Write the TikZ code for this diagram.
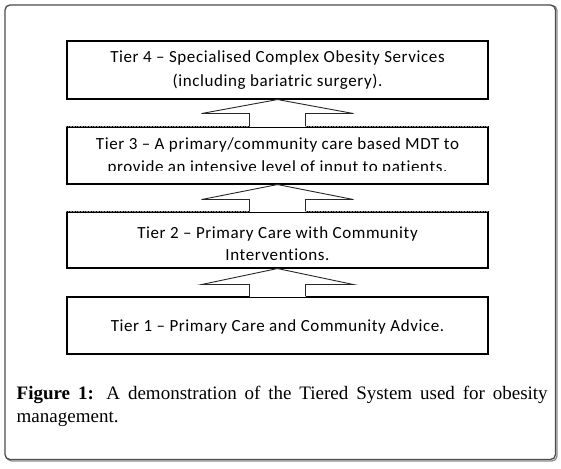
\documentclass[tikz,border=0pt]{standalone}
\usepackage{fontspec}
\setmainfont{Liberation Serif}
\newfontfamily\boxfont[LetterSpace=3.5,Ligatures=NoCommon]{Carlito}
\usetikzlibrary{calc}
\begin{document}
\begin{tikzpicture}[x=1pt,y=1pt,
  tierbox/.style={draw=black,line width=1.1pt,minimum width=421pt,inner sep=0pt},
  tiertext/.style={font=\boxfont\fontsize{17}{23}\selectfont,align=center,inner sep=0pt,anchor=base},
  blockarrow/.style={fill=white,draw=black!85,line width=0.9pt,line join=miter},
  frame/.style={draw=black!70,line width=1.3pt,rounded corners=5pt}
]
\useasboundingbox (0,0) rectangle (561,468);
% outer frame with slight shadow
\draw[draw=black!45,line width=1.3pt,rounded corners=5pt] (6.5,7) rectangle (557,462.5);
\draw[frame,fill=white] (5,8.5) rectangle (555.5,463);

% tier boxes
\node[tierbox,minimum height=58pt] (t4) at (277.5,398) {};
\node[tierbox,minimum height=57pt] (t3) at (277.5,312.5) {};
\node[tierbox,minimum height=56pt] (t2) at (277.5,228) {};
\node[tierbox,minimum height=57pt] (t1) at (277.5,142.5) {};
% lighter top edges of tiers 3 and 2
\draw[black!50,line width=1.1pt,dash pattern=on 1pt off 0.6pt] (t3.north west) -- (t3.north east);
\draw[black!50,line width=1.1pt,dash pattern=on 1pt off 0.6pt] (t2.north west) -- (t2.north east);

% texts
\node[tiertext] (x4a) at (277.5,405) {Tier 4 – Specialised Complex Obesity Services};
\node[tiertext] (x4b) at (277.5,381) {(including bariatric surgery).};
\begin{scope}
\clip (60,297.5) rectangle (500,345);
\node[tiertext] (x3a) at (277.5,318) {Tier 3 – A primary/community care based MDT to};
\node[tiertext] (x3b) at (277.5,295) {provide an intensive level of input to patients.};
\end{scope}
\node[tiertext] (x2a) at (277.5,229) {Tier 2 – Primary Care with Community};
\node[tiertext] (x2b) at (277.5,207) {Interventions.};
\node[tiertext] (x1) at (277.5,136) {Tier 1 – Primary Care and Community Advice.};

% block arrows (open at the bottom, over the lower box's top edge)
\foreach \up/\lo/\h in {t4/t3/14,t3/t2/15,t2/t1/16}{
  \fill[white] ($(\lo.north)+(-28,-0.6)$) rectangle ($(\lo.north)+(28,1)$);
  \draw[blockarrow]
    ($(\lo.north)+(-28,0)$)
    |- ($(\up.south)+(-76,-\h)$)
    -- (\up.south)
    -- ($(\up.south)+(76,-\h)$)
    -| ($(\lo.north)+(28,0)$);
}

% caption
\node[anchor=north west,inner sep=0pt,text width=531pt,align=justify,
      font=\fontsize{19}{23}\selectfont] (cap) at (16.5,82)
  {\textbf{Figure 1:} A demonstration of the Tiered System used for obesity\linebreak
   management.};
\end{tikzpicture}
\end{document}
